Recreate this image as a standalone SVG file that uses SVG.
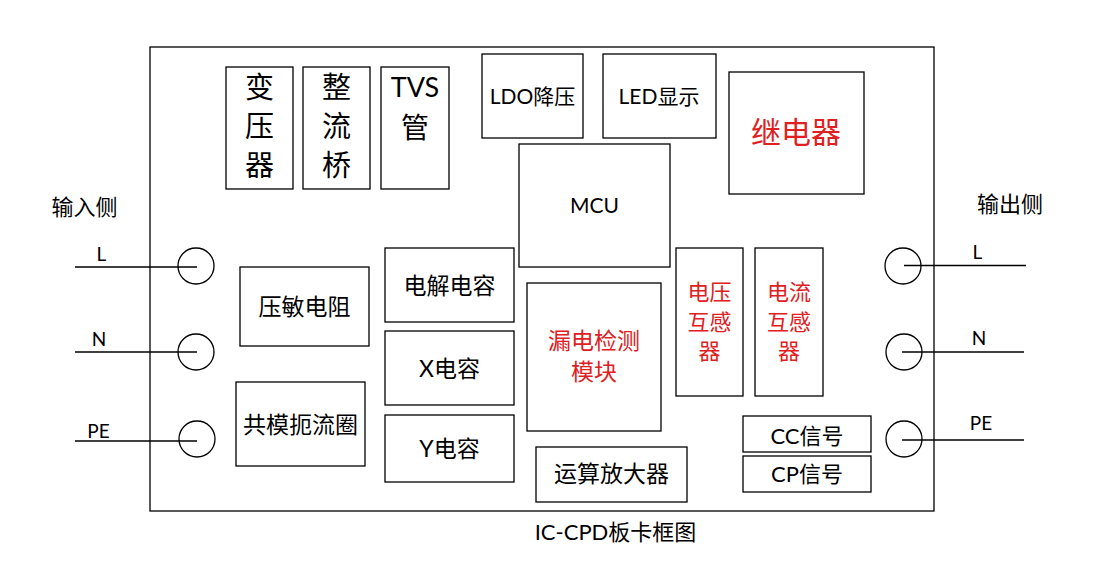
<svg xmlns="http://www.w3.org/2000/svg" width="1102" height="583" viewBox="0 0 1102 583">
<style>
.box{fill:none;stroke:#000;stroke-width:1.3}
.t{font-family:"Lato","Noto Sans CJK SC",sans-serif;fill:#000;text-anchor:middle}
.r{fill:#E0201E}
.w{stroke:#000;stroke-width:1.3;fill:none}
</style>
<rect width="1102" height="583" fill="#fff"/>
<g id="board"><rect class="box" x="150" y="47" width="784" height="464"/></g>
<g id="transformer"><rect class="box" x="226" y="67" width="67" height="122"/>
<text class="t" x="259.5" y="98" font-size="29">变</text><text class="t" x="259.5" y="137" font-size="29">压</text><text class="t" x="259.5" y="176" font-size="29">器</text></g>
<g id="bridge"><rect class="box" x="303" y="67" width="67" height="122"/>
<text class="t" x="336.5" y="98" font-size="29">整</text><text class="t" x="336.5" y="137" font-size="29">流</text><text class="t" x="336.5" y="176" font-size="29">桥</text></g>
<g id="tvs"><rect class="box" x="381" y="67" width="68" height="122"/>
<text class="t" x="415" y="97" font-size="27">TVS</text><text class="t" x="415" y="138" font-size="28">管</text></g>
<g id="ldo"><rect class="box" x="482" y="54" width="101" height="84"/><text class="t" x="532.5" y="104" font-size="21">LDO降压</text></g>
<g id="led"><rect class="box" x="603" y="54" width="113" height="84"/><text class="t" x="659" y="104" font-size="21">LED显示</text></g>
<g id="relay"><rect class="box" x="729" y="72" width="135" height="122"/><text class="t r" x="796" y="142.5" font-size="30">继电器</text></g>
<g id="mcu"><rect class="box" x="519" y="144" width="151" height="123"/><text class="t" x="594.5" y="213" font-size="21">MCU</text></g>
<g id="varistor"><rect class="box" x="240" y="267" width="129" height="79"/><text class="t" x="304.5" y="314.5" font-size="23">压敏电阻</text></g>
<g id="choke"><rect class="box" x="236" y="382" width="129" height="84"/><text class="t" x="300.5" y="433" font-size="23">共模扼流圈</text></g>
<g id="ecap"><rect class="box" x="385" y="248" width="129" height="74"/><text class="t" x="449.5" y="293.5" font-size="23">电解电容</text></g>
<g id="xcap"><rect class="box" x="385" y="331" width="129" height="74"/><text class="t" x="449.5" y="377" font-size="23">X电容</text></g>
<g id="ycap"><rect class="box" x="385" y="415" width="129" height="67"/><text class="t" x="449.5" y="457" font-size="23">Y电容</text></g>
<g id="leak"><rect class="box" x="527" y="283" width="134" height="148"/>
<text class="t r" x="594" y="348.5" font-size="23">漏电检测</text><text class="t r" x="594" y="380" font-size="23">模块</text></g>
<g id="vt"><rect class="box" x="676" y="248" width="67" height="148"/>
<text class="t r" x="709.5" y="300" font-size="22">电压</text><text class="t r" x="709.5" y="329.5" font-size="22">互感</text><text class="t r" x="709.5" y="358.5" font-size="22">器</text></g>
<g id="ct"><rect class="box" x="755" y="248" width="68" height="148"/>
<text class="t r" x="789" y="300" font-size="22">电流</text><text class="t r" x="789" y="329.5" font-size="22">互感</text><text class="t r" x="789" y="358.5" font-size="22">器</text></g>
<g id="cc"><rect class="box" x="743" y="416" width="128" height="36"/><text class="t" x="807" y="444" font-size="22">CC信号</text></g>
<g id="cp"><rect class="box" x="743" y="456" width="128" height="36"/><text class="t" x="807" y="481.5" font-size="22">CP信号</text></g>
<g id="opamp"><rect class="box" x="536" y="447" width="151" height="55"/><text class="t" x="611.5" y="482" font-size="23">运算放大器</text></g>
<g id="in-L"><circle class="w" cx="196" cy="266" r="18"/><text class="t" x="101.5" y="261" font-size="19">L</text></g>
<g id="in-N"><circle class="w" cx="196" cy="352" r="18"/><text class="t" x="99" y="345.5" font-size="19">N</text></g>
<g id="in-PE"><circle class="w" cx="197" cy="439" r="18"/><text class="t" x="98.5" y="437.5" font-size="19">PE</text></g>
<g id="out-L"><circle class="w" cx="903" cy="266" r="18"/><text class="t" x="977.5" y="259" font-size="19">L</text></g>
<g id="out-N"><circle class="w" cx="904" cy="352" r="18"/><text class="t" x="979" y="345" font-size="19">N</text></g>
<g id="out-PE"><circle class="w" cx="904" cy="439" r="18"/><text class="t" x="981" y="430" font-size="19">PE</text></g>
<g id="connectors">
<line class="w" x1="75" y1="267" x2="197" y2="267"/>
<line class="w" x1="75" y1="352" x2="197" y2="352"/>
<line class="w" x1="75" y1="441" x2="197" y2="441"/>
<line class="w" x1="904" y1="265.5" x2="1026" y2="265.5"/>
<line class="w" x1="902" y1="352" x2="1024" y2="352"/>
<line class="w" x1="902" y1="440" x2="1024" y2="440"/>
</g>
<g id="labels">
<text class="t" x="84.5" y="214.5" font-size="22">输入侧</text>
<text class="t" x="1010" y="212" font-size="22">输出侧</text>
<text class="t" x="615.5" y="540" font-size="22">IC-CPD板卡框图</text>
</g>
</svg>
